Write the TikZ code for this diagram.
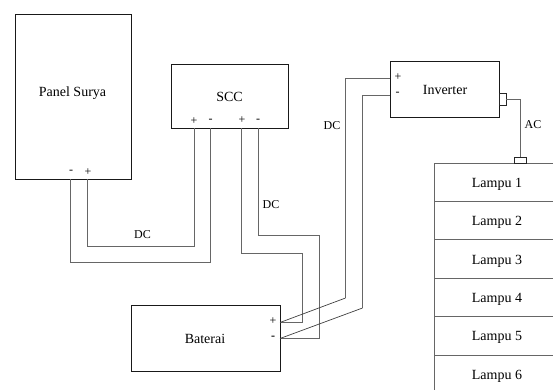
\documentclass[tikz,border=0pt]{standalone}
\usepackage{fontspec}
\setmainfont{Liberation Serif}

\begin{document}
\begin{tikzpicture}[
    x=1pt, y=-1pt,
    unit/.style={rectangle, draw=black!90, line width=1pt, inner sep=0pt, outer sep=0pt},
    lamp/.style={rectangle, draw=black!60, line width=0.9pt, minimum width=126pt, minimum height=38.4pt, inner sep=0pt, outer sep=0pt, text height=11pt, text depth=1pt, font=\fontsize{14}{16}\selectfont},
    port/.style={rectangle, draw=black!85, line width=0.9pt, inner sep=0pt, outer sep=0pt},
    wire/.style={draw=black!60, line width=1pt},
    thinwire/.style={draw=black!75, line width=0.7pt},
    unitname/.style={font=\fontsize{14}{16}\selectfont},
    sign/.style={font=\fontsize{12}{14}\selectfont, inner sep=0pt},
    wirelabel/.style={font=\fontsize{12}{14}\selectfont, inner sep=0pt}
]
\useasboundingbox (0,0) rectangle (553,389);
\clip (0,0) rectangle (553,389);

% Main units
\node[unit, minimum width=116pt, minimum height=165pt] (panel) at (73,96.5) {};
\node[unit, minimum width=117pt, minimum height=64pt] (scc) at (229.5,96) {};
\node[unit, minimum width=109pt, minimum height=56pt] (inverter) at (444.5,89) {};
\node[unit, minimum width=149pt, minimum height=66pt] (baterai) at (205.5,338) {};

% Unit names
\node[unitname] (panelname) at (72.5,93.5) {Panel Surya};
\node[unitname] (sccname) at (229.5,97) {SCC};
\node[unitname] (invname) at (445,89.5) {Inverter};
\node[unitname] (batname) at (205,338.5) {Baterai};

% Lamp column
\node[lamp] (l1) at (497,182.2) {Lampu 1};
\node[lamp] (l2) at (497,220.6) {Lampu 2};
\node[lamp] (l3) at (497,259) {Lampu 3};
\node[lamp] (l4) at (497,297.4) {Lampu 4};
\node[lamp] (l5) at (497,335.8) {Lampu 5};
\node[lamp] (l6) at (497,374.2) {Lampu 6};

% Small connectors for AC
\node[port, minimum width=6.7pt, minimum height=12.4pt] (invout) at (502.6,99.5) {};
\node[port, minimum width=11.7pt, minimum height=6pt] (lampin) at (520.1,160.3) {};

% Terminals
\coordinate (panelm) at (70.5,179);
\coordinate (panelp) at (87.5,179);
\coordinate (sccinp) at (194.5,128);
\coordinate (sccinm) at (210.5,128);
\coordinate (sccoutp) at (241.5,128);
\coordinate (sccoutm) at (258.5,128);
\coordinate (invp) at (390,78.5);
\coordinate (invm) at (390,95.5);
\coordinate (batp) at (280,322.5);
\coordinate (batm) at (280,338.5);
\coordinate (invpbend) at (345.5,298);
\coordinate (invmbend) at (362.5,308);

% Signs
\node[sign] (s1) at (71,172) {-};
\node[sign] (s2) at (88,172) {+};
\node[sign] (s3) at (194,121) {+};
\node[sign] (s4) at (210.5,121) {-};
\node[sign] (s5) at (242,120.5) {+};
\node[sign] (s6) at (258,121) {-};
\node[sign] (s7) at (398,77.5) {+};
\node[sign] (s8) at (397.5,94) {-};
\node[sign] (s9) at (273,321.5) {+};
\node[sign, font=\fontsize{12}{14}\selectfont\bfseries] (s10) at (273,338) {-};

% DC wires panel to SCC
\draw[wire] (panelp) -- ++(0,67.5) -| (sccinp);
\draw[wire] (panelm) -- ++(0,83) -| (sccinm);

% DC wires SCC to battery
\draw[wire] (sccoutp) -- ++(0,125) -- ++(61,0) |- (batp);
\draw[wire] (sccoutm) -- ++(0,107.5) -- ++(61,0) |- (batm);

% DC wires battery to inverter
\draw[wire] (invp) -| (invpbend);
\draw[thinwire] (invpbend) -- (batp);
\draw[wire] (invm) -| (invmbend);
\draw[thinwire] (invmbend) -- (batm);

% AC wire
\draw[wire] (invout.east) -| (lampin.north);

% Wire labels
\node[wirelabel] (dc1) at (142.5,235) {DC};
\node[wirelabel] (dc2) at (271,205) {DC};
\node[wirelabel] (dc3) at (332,126) {DC};
\node[wirelabel] (ac) at (533,125) {AC};

\end{tikzpicture}
\end{document}
